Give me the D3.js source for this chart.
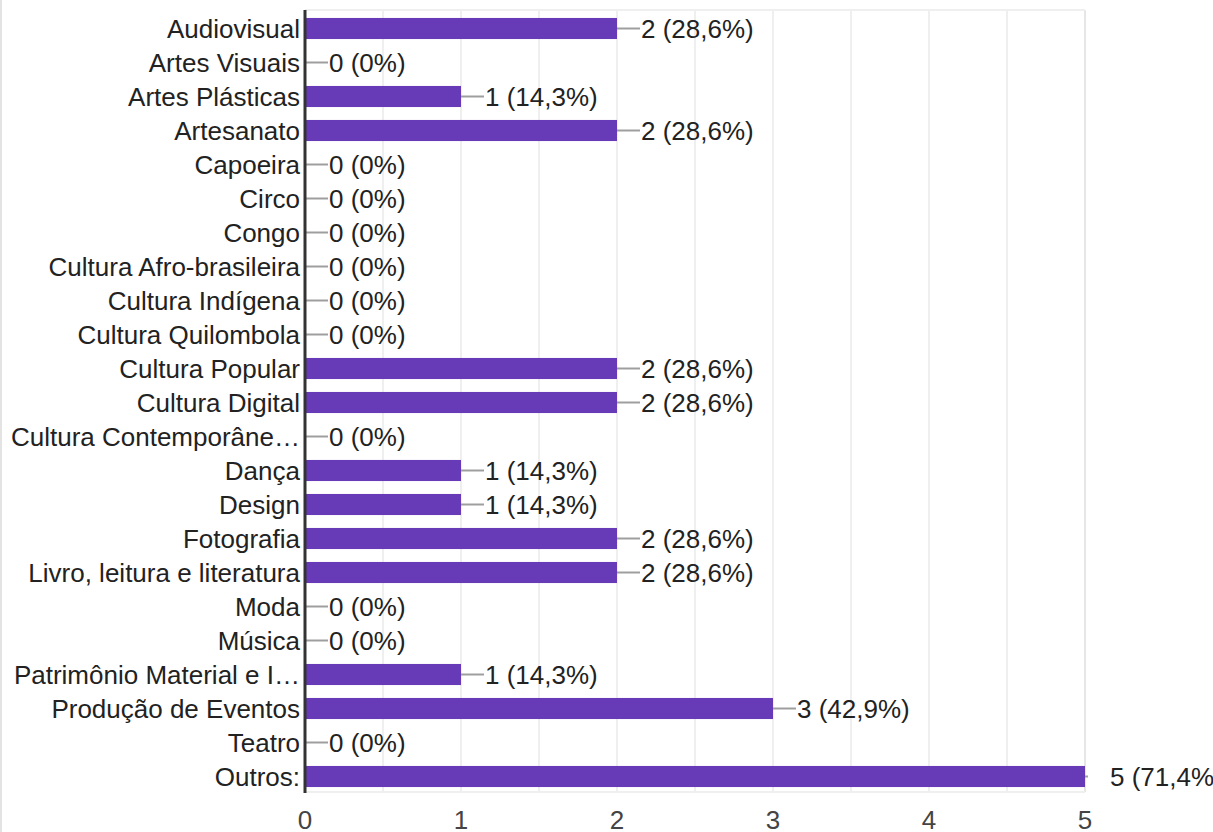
<!DOCTYPE html>
<html>
<head>
<meta charset="utf-8">
<script src="https://cdn.jsdelivr.net/npm/d3@7"></script>
<style>
  body { margin: 0; background: #fff; overflow: hidden; }
  svg { display: block; font-family: "Liberation Sans", Arial, sans-serif; }
  .cat-label, .val-label { fill: #222; font-size: 26px; }
  .tick-label { fill: #444; font-size: 26px; }
</style>
</head>
<body>
<svg id="chart"></svg>
<script>
const categories = [
  "Audiovisual", "Artes Visuais", "Artes Plásticas", "Artesanato", "Capoeira", "Circo", "Congo",
  "Cultura Afro-brasileira", "Cultura Indígena", "Cultura Quilombola", "Cultura Popular",
  "Cultura Digital", "Cultura Contemporâne…", "Dança", "Design", "Fotografia",
  "Livro, leitura e literatura", "Moda", "Música", "Patrimônio Material e I…",
  "Produção de Eventos", "Teatro", "Outros:"
];
const counts = [2, 0, 1, 2, 0, 0, 0, 0, 0, 0, 2, 2, 0, 1, 1, 2, 2, 0, 0, 1, 3, 0, 5];
const percents = ["28,6%", "0%", "14,3%", "28,6%", "0%", "0%", "0%", "0%", "0%", "0%", "28,6%",
  "28,6%", "0%", "14,3%", "14,3%", "28,6%", "28,6%", "0%", "0%", "14,3%", "42,9%", "0%", "71,4%"];
const xTicks = [0, 1, 2, 3, 4, 5];
const gridTicks = [0.5, 1, 1.5, 2, 2.5, 3, 3.5, 4, 4.5, 5];

const W = 1213, H = 832;
const svg = d3.select("#chart").attr("width", W).attr("height", H);

const data = categories.map((c, i) => ({ cat: c, n: counts[i], pct: percents[i] }));

const x = d3.scaleLinear().domain([0, 5]).range([305, 1085]);
const y = d3.scaleBand().domain(categories).range([11.5, 793.5]).paddingInner(0.38).paddingOuter(0.19);
const plotTop = 10, plotBottom = 792;

// faint left border
svg.append("line").attr("x1", 1).attr("x2", 1).attr("y1", 0).attr("y2", H)
  .attr("stroke", "#e3e3e3").attr("stroke-width", 2);

// gridlines
svg.append("g").selectAll("line").data(gridTicks).enter().append("line")
  .attr("x1", d => x(d)).attr("x2", d => x(d)).attr("y1", plotTop).attr("y2", plotBottom)
  .attr("stroke", d => d === 5 ? "#e6e6e6" : "#efefef").attr("stroke-width", 2);
svg.append("line").attr("x1", x(0)).attr("x2", x(5)).attr("y1", plotTop).attr("y2", plotTop)
  .attr("stroke", "#efefef").attr("stroke-width", 2);
svg.append("line").attr("x1", x(0)).attr("x2", x(5)).attr("y1", plotBottom).attr("y2", plotBottom)
  .attr("stroke", "#efefef").attr("stroke-width", 2);

// bars
svg.append("g").selectAll("rect").data(data.filter(d => d.n > 0)).enter().append("rect")
  .attr("x", x(0)).attr("y", d => y(d.cat))
  .attr("width", d => x(d.n) - x(0)).attr("height", y.bandwidth())
  .attr("fill", "#673ab7");

// annotation stems + labels
const ann = svg.append("g").selectAll("g").data(data).enter().append("g");
ann.append("line")
  .attr("x1", d => x(d.n)).attr("x2", d => d.n === 5 ? x(d.n) + 3 : x(d.n) + 23)
  .attr("y1", d => y(d.cat) + y.bandwidth() / 2).attr("y2", d => y(d.cat) + y.bandwidth() / 2)
  .attr("stroke", "#9e9e9e").attr("stroke-width", 2);
ann.append("text").attr("class", "val-label")
  .attr("x", d => d.n === 5 ? x(d.n) + 25 : x(d.n) + 24)
  .attr("y", d => y(d.cat) + y.bandwidth() / 2)
  .attr("dy", "0.35em")
  .text(d => `${d.n} (${d.pct})`);

// axis line
svg.append("line").attr("x1", x(0)).attr("x2", x(0)).attr("y1", plotTop).attr("y2", plotBottom + 1)
  .attr("stroke", "#333").attr("stroke-width", 3);

// category labels
svg.append("g").selectAll("text").data(categories).enter().append("text")
  .attr("class", "cat-label")
  .attr("x", 300).attr("y", d => y(d) + y.bandwidth() / 2).attr("dy", "0.35em")
  .attr("text-anchor", "end").text(d => d);

// x tick labels
svg.append("g").selectAll("text").data(xTicks).enter().append("text")
  .attr("class", "tick-label")
  .attr("x", d => x(d)).attr("y", 829).attr("text-anchor", "middle").text(d => d);
</script>
</body>
</html>
